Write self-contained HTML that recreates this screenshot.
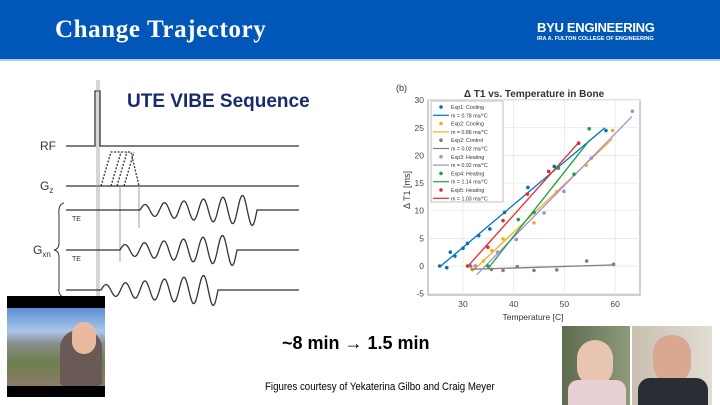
<!DOCTYPE html>
<html><head><meta charset="utf-8"><style>
body{margin:0;width:720px;height:405px;overflow:hidden;background:#fff;font-family:"Liberation Sans",sans-serif;position:relative}
.hdr{position:absolute;left:0;top:0;width:720px;height:59px;background:#0057b8}
.hl{position:absolute;left:0;top:59px;width:720px;height:2px;background:#a9d0f5}
.t{position:absolute;white-space:nowrap}
</style></head><body>
<div class="hdr"></div><div class="hl"></div>
<div class="t" style="left:55px;top:16px;color:#fff;font:bold 25px 'Liberation Serif',serif;letter-spacing:0.6px">Change Trajectory</div>
<div class="t" style="left:537px;top:20px;color:#fff;font:bold 13px 'Liberation Sans',sans-serif;letter-spacing:-0.3px">BYU ENGINEERING</div>
<div class="t" style="left:537px;top:36px;color:#fff;font:bold 5.5px 'Liberation Sans',sans-serif;">IRA A. FULTON COLLEGE OF ENGINEERING</div>
<div class="t" style="left:127px;top:91px;color:#1a2a6c;font:bold 19px 'Liberation Sans',sans-serif;">UTE VIBE Sequence</div>
<svg width="720" height="405" style="position:absolute;left:0;top:0" id="s">
<g stroke="#333" fill="none" stroke-width="1.3">
<path d="M66 146H95V91H100V146H299"/>
<path d="M66 186H299"/>
<path d="M101 186L111 152H131L139 186M111 186L121 152M117 186L127 152M124 186L134 152" stroke-dasharray="2 1.5"/>
<path d="M97 80V300M99 80V300" stroke="#999" stroke-width="0.8"/>
<path d="M120 186V262M139 186V228" stroke="#888" stroke-width="0.8"/>
<path id="w1"/><path id="w2"/><path id="w3"/>
<path d="M64 203Q58 204 59 215V243Q59 249 54 250Q59 251 59 257V287Q58 296 64 297" stroke-width="1"/>
</g>
<g font-size="12" fill="#333"><text x="40" y="150">RF</text><text x="40" y="190">G<tspan font-size="8" dy="3">z</tspan></text><text x="33" y="254">G<tspan font-size="8" dy="3">xn</tspan></text>
<text x="72" y="221" font-size="7">TE</text><text x="72" y="261" font-size="7">TE</text></g>
<g font-family="Liberation Sans" fill="#333">
<text x="396" y="91" font-size="9">(b)</text>
<text x="534" y="97" font-size="10" font-weight="bold" text-anchor="middle">Δ T1 vs. Temperature in Bone</text>
<text transform="translate(410,190) rotate(-90)" font-size="9" text-anchor="middle">Δ T1 [ms]</text>
<text x="533" y="320" font-size="8.5" text-anchor="middle">Temperature [C]</text>
</g>
<rect x="428" y="100" width="212" height="195" fill="#fff" stroke="#888" stroke-width="0.8"/>
<g id="grid" stroke="#e4e4e4" stroke-width="0.7"></g>
<g id="ticks" font-size="8.5" fill="#444" font-family="Liberation Sans"></g>
<g id="plot"></g>
<rect x="431" y="101" width="72" height="101" fill="#fff" stroke="#999" stroke-width="0.6"/>
<g id="leg" font-size="5.3" fill="#333" font-family="Liberation Sans"></g>
</svg>
<div style="position:absolute;left:7px;top:296px;width:98px;height:101px;background:#000"></div>
<div style="position:absolute;left:7px;top:308px;width:98px;height:78px;background:linear-gradient(#5b8fd6,#a9c6e8 30%,#8a8f90 45%,#6e7f4c 70%,#8a7a6a)"></div>
<div style="position:absolute;left:60px;top:330px;width:42px;height:56px;background:#6a5a55;border-radius:18px 18px 4px 4px"></div>
<div style="position:absolute;left:72px;top:322px;width:24px;height:32px;background:#e9b9a0;border-radius:12px"></div>
<div class="t" style="left:282px;top:333px;font:bold 18px 'Liberation Sans',sans-serif;color:#000">~8 min → 1.5 min</div>
<div class="t" style="left:265px;top:381px;font:11px 'Liberation Sans Narrow','Liberation Sans',sans-serif;color:#000;transform:scaleX(0.88);transform-origin:left">Figures courtesy of Yekaterina Gilbo and Craig Meyer</div>
<div style="position:absolute;left:562px;top:326px;width:68px;height:79px;background:linear-gradient(90deg,#5d6b4e,#8e9a7c)"></div>
<div style="position:absolute;left:577px;top:340px;width:36px;height:46px;background:#e8c5b0;border-radius:18px"></div>
<div style="position:absolute;left:568px;top:380px;width:58px;height:25px;background:#e8d0d4;border-radius:10px 10px 0 0"></div>
<div style="position:absolute;left:632px;top:326px;width:80px;height:79px;background:linear-gradient(90deg,#c8c0b0,#e2ddd2)"></div>
<div style="position:absolute;left:653px;top:335px;width:38px;height:48px;background:#d8a890;border-radius:18px"></div>
<div style="position:absolute;left:638px;top:378px;width:70px;height:27px;background:#2a2d33;border-radius:12px 12px 0 0"></div>
<script>
function wave(x0,xs,xe,x1,y,id){let d=`M${x0} ${y}H${xs}`;const n=6;for(let x=xs;x<=xe;x+=1){const f=(x-xs)/(xe-xs);const a=5+f*11;d+=`L${x} ${(y-a*Math.sin(f*n*2*Math.PI)).toFixed(1)}`;}d+=`L${xe+3} ${y}H${x1}`;document.getElementById(id).setAttribute('d',d);}
wave(66,140,257,299,210,'w1');wave(66,120,237,299,250,'w2');wave(66,101,218,299,290,'w3');
const X=t=>463+(t-30)*5.07,Y=v=>266-v*5.53,NS='http://www.w3.org/2000/svg';
function el(p,n,a){const e=document.createElementNS(NS,n);for(const k in a)e.setAttribute(k,a[k]);document.getElementById(p).appendChild(e);return e;}
for(let t=30;t<=60;t+=10){el('grid','line',{x1:X(t),x2:X(t),y1:100,y2:295});el('ticks','text',{x:X(t),y:307,'text-anchor':'middle'}).textContent=t;}
for(let v=-5;v<=30;v+=5){el('grid','line',{x1:428,x2:640,y1:Y(v),y2:Y(v)});el('ticks','text',{x:424,y:Y(v)+3,'text-anchor':'end'}).textContent=v;}
const S=[
['#0072bd',[[25.4,0],[26.8,-.3],[27.5,2.5],[28.4,1.8],[30,3.2],[30.9,4.1],[33.1,5.5],[35.3,6.7],[38.2,9.7],[42.8,14.2],[48,18],[58.2,24.5]],[25.5,-.1,58,25],'Exp1: Cooling','m = 0.78 ms/°C'],
['#edb120',[[31.8,-.6],[34,.9],[35.7,2.8],[37.9,4.9],[44,7.8],[48.5,13.4],[54.3,18.2],[59.5,24.5]],[31.8,-1,59.5,23],'Exp2: Cooling','m = 0.86 ms/°C'],
['#7f7f7f',[[31.5,0],[32.4,0],[35.6,-.6],[37.9,-.8],[40.7,-.1],[44,-.8],[48.5,-.7],[54.4,.9],[59.7,.3]],[31.5,-.6,60,.2],'Exp2: Control','m = 0.02 ms/°C'],
['#a58fd0',[[32.4,0],[36.8,2.5],[40.5,4.8],[46,9.6],[49.9,13.5],[55.3,19.5],[63.4,28]],[32.7,-1.6,63.3,27],'Exp3: Heating','m = 0.92 ms/°C'],
['#1e9e4a',[[34.9,0],[40.9,8.4],[44,9.7],[48.8,17.7],[51.9,16.6],[54.9,24.8]],[34.9,-.5,55,22.8],'Exp4: Heating','m = 1.14 ms/°C'],
['#e8282b',[[30.9,0],[34.9,3.4],[37.9,8.2],[42.7,13],[46.9,17.1],[52.8,22.2]],[31,0,53,22.5],'Exp5: Heating','m = 1.03 ms/°C']];
S.forEach((s,i)=>{el('plot','line',{x1:X(s[2][0]),y1:Y(s[2][1]),x2:X(s[2][2]),y2:Y(s[2][3]),stroke:s[0],'stroke-width':1.3});
s[1].forEach(p=>el('plot','circle',{cx:X(p[0]),cy:Y(p[1]),r:1.8,fill:s[0]}));
const y=107+i*16.6;el('leg','circle',{cx:441,cy:y,r:1.8,fill:s[0]});el('leg','text',{x:451,y:y+2}).textContent=s[3];
el('leg','line',{x1:433,x2:449,y1:y+8.3,y2:y+8.3,stroke:s[0],'stroke-width':1.2});el('leg','text',{x:451,y:y+10.3}).textContent=s[4];});
</script>
</body></html>
